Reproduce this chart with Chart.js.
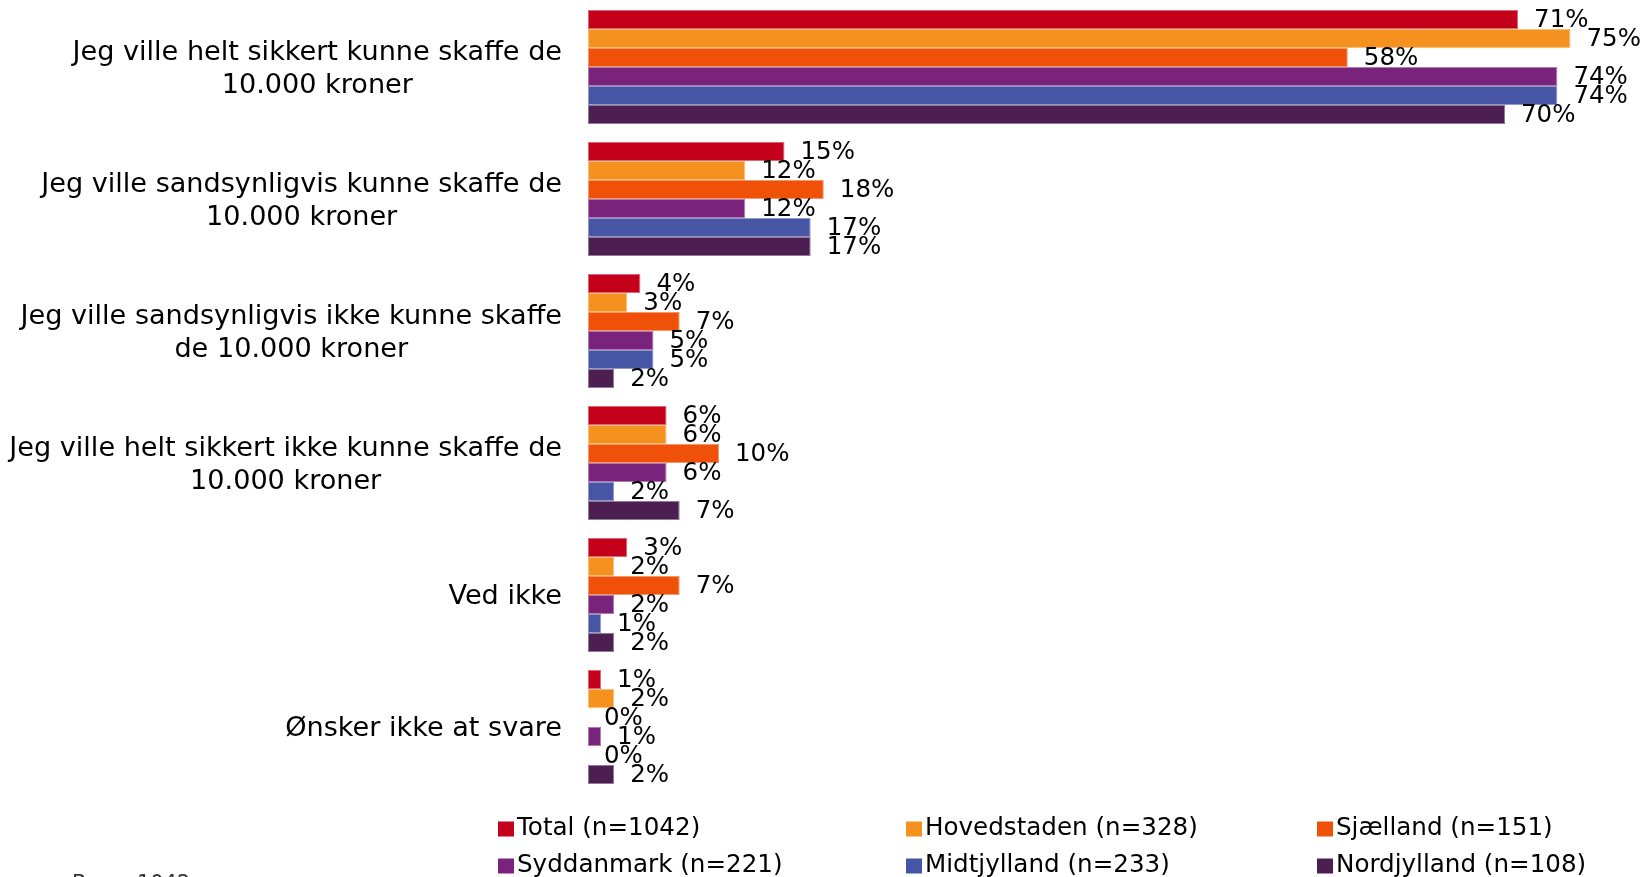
<!DOCTYPE html>
<html>
<head>
<meta charset="utf-8">
<title>Kunne du skaffe 10.000 kroner?</title>
<script src="https://cdn.jsdelivr.net/npm/chart.js@4"></script>
<style>
  html, body { margin: 0; padding: 0; background: #fff; overflow: hidden; }
  #wrap { position: relative; width: 1641px; height: 877px; }
</style>
</head>
<body>
<div id="wrap"><canvas id="chart" width="1641" height="877"></canvas></div>
<script>
// answer categories, one array of lines per label
const categories = [
  ['Jeg ville helt sikkert kunne skaffe de', '10.000 kroner'],
  ['Jeg ville sandsynligvis kunne skaffe de', '10.000 kroner'],
  ['Jeg ville sandsynligvis ikke kunne skaffe', 'de 10.000 kroner'],
  ['Jeg ville helt sikkert ikke kunne skaffe de', '10.000 kroner'],
  ['Ved ikke'],
  ['Ønsker ikke at svare']
];

const seriesNames = [
  'Total (n=1042)',
  'Hovedstaden (n=328)',
  'Sjælland (n=151)',
  'Syddanmark (n=221)',
  'Midtjylland (n=233)',
  'Nordjylland (n=108)'
];

// percent per category
const total       = [71, 15, 4, 6, 3, 1];
const hovedstaden = [75, 12, 3, 6, 2, 2];
const sjaelland   = [58, 18, 7, 10, 7, 0];
const syddanmark  = [74, 12, 5, 6, 2, 1];
const midtjylland = [74, 17, 5, 2, 1, 0];
const nordjylland = [70, 17, 2, 7, 2, 2];

const baseNote = 'Base: 1042';

const colors = ['#c5001a', '#f5921f', '#ef5108', '#79237d', '#4755a5', '#4d1e51'];
const seriesValues = [total, hovedstaden, sjaelland, syddanmark, midtjylland, nordjylland];

const FONT = '"DejaVu Sans", Verdana, sans-serif';

const labelsPlugin = {
  id: 'labels',
  afterDraw(chart) {
    const ctx = chart.ctx;
    const yScale = chart.scales.y;
    ctx.save();
    ctx.fillStyle = '#000';

    // category labels: block right aligned, lines centred inside the block
    ctx.font = '27.1px ' + FONT;
    ctx.textBaseline = 'middle';
    ctx.textAlign = 'center';
    const lineH = 33;
    categories.forEach((lines, i) => {
      const cy = yScale.getPixelForValue(i) + 2;
      const w = Math.max(...lines.map(l => ctx.measureText(l).width));
      const cx = 562 - w / 2;
      const y0 = cy - (lines.length - 1) * lineH / 2;
      lines.forEach((l, k) => ctx.fillText(l, cx, y0 + k * lineH));
    });

    // value labels to the right of every bar
    ctx.font = '24.5px ' + FONT;
    ctx.textAlign = 'left';
    chart.data.datasets.forEach((ds, di) => {
      chart.getDatasetMeta(di).data.forEach((bar, j) => {
        ctx.fillText(ds.data[j] + '%', bar.x + 16, bar.y + 1);
      });
    });

    // legend, three columns by two rows
    const colX = [498, 906, 1317];
    const rowY = [829, 866];
    ctx.font = '24.6px ' + FONT;
    chart.data.datasets.forEach((ds, di) => {
      const x = colX[di % 3];
      const y = rowY[Math.floor(di / 3)];
      ctx.fillStyle = ds.backgroundColor;
      ctx.fillRect(x, y - 7.5, 16, 15);
      ctx.fillStyle = '#000';
      ctx.fillText(ds.label, x + 19, y);
    });

    // base note sits at the very bottom edge
    ctx.font = '21px ' + FONT;
    ctx.fillStyle = '#333';
    ctx.textBaseline = 'alphabetic';
    ctx.fillText(baseNote, 72, 890);
    ctx.restore();
  }
};

new Chart(document.getElementById('chart'), {
  type: 'bar',
  data: {
    labels: categories.map(c => c.join(' ')),
    datasets: seriesNames.map((name, i) => ({
      label: name,
      data: seriesValues[i],
      backgroundColor: colors[i],
      borderColor: colors[i] + '99',
      borderWidth: 1,
      borderSkipped: false,
      categoryPercentage: 0.864,
      barPercentage: 1
    }))
  },
  options: {
    indexAxis: 'y',
    responsive: false,
    animation: false,
    layout: { padding: { left: 588, right: 5, top: 1, bottom: 84 } },
    plugins: {
      legend: { display: false },
      tooltip: { enabled: false },
      title: { display: false }
    },
    scales: {
      x: { display: false, min: 0, max: 80 },
      y: { display: false }
    }
  },
  plugins: [labelsPlugin]
});
</script>
</body>
</html>
